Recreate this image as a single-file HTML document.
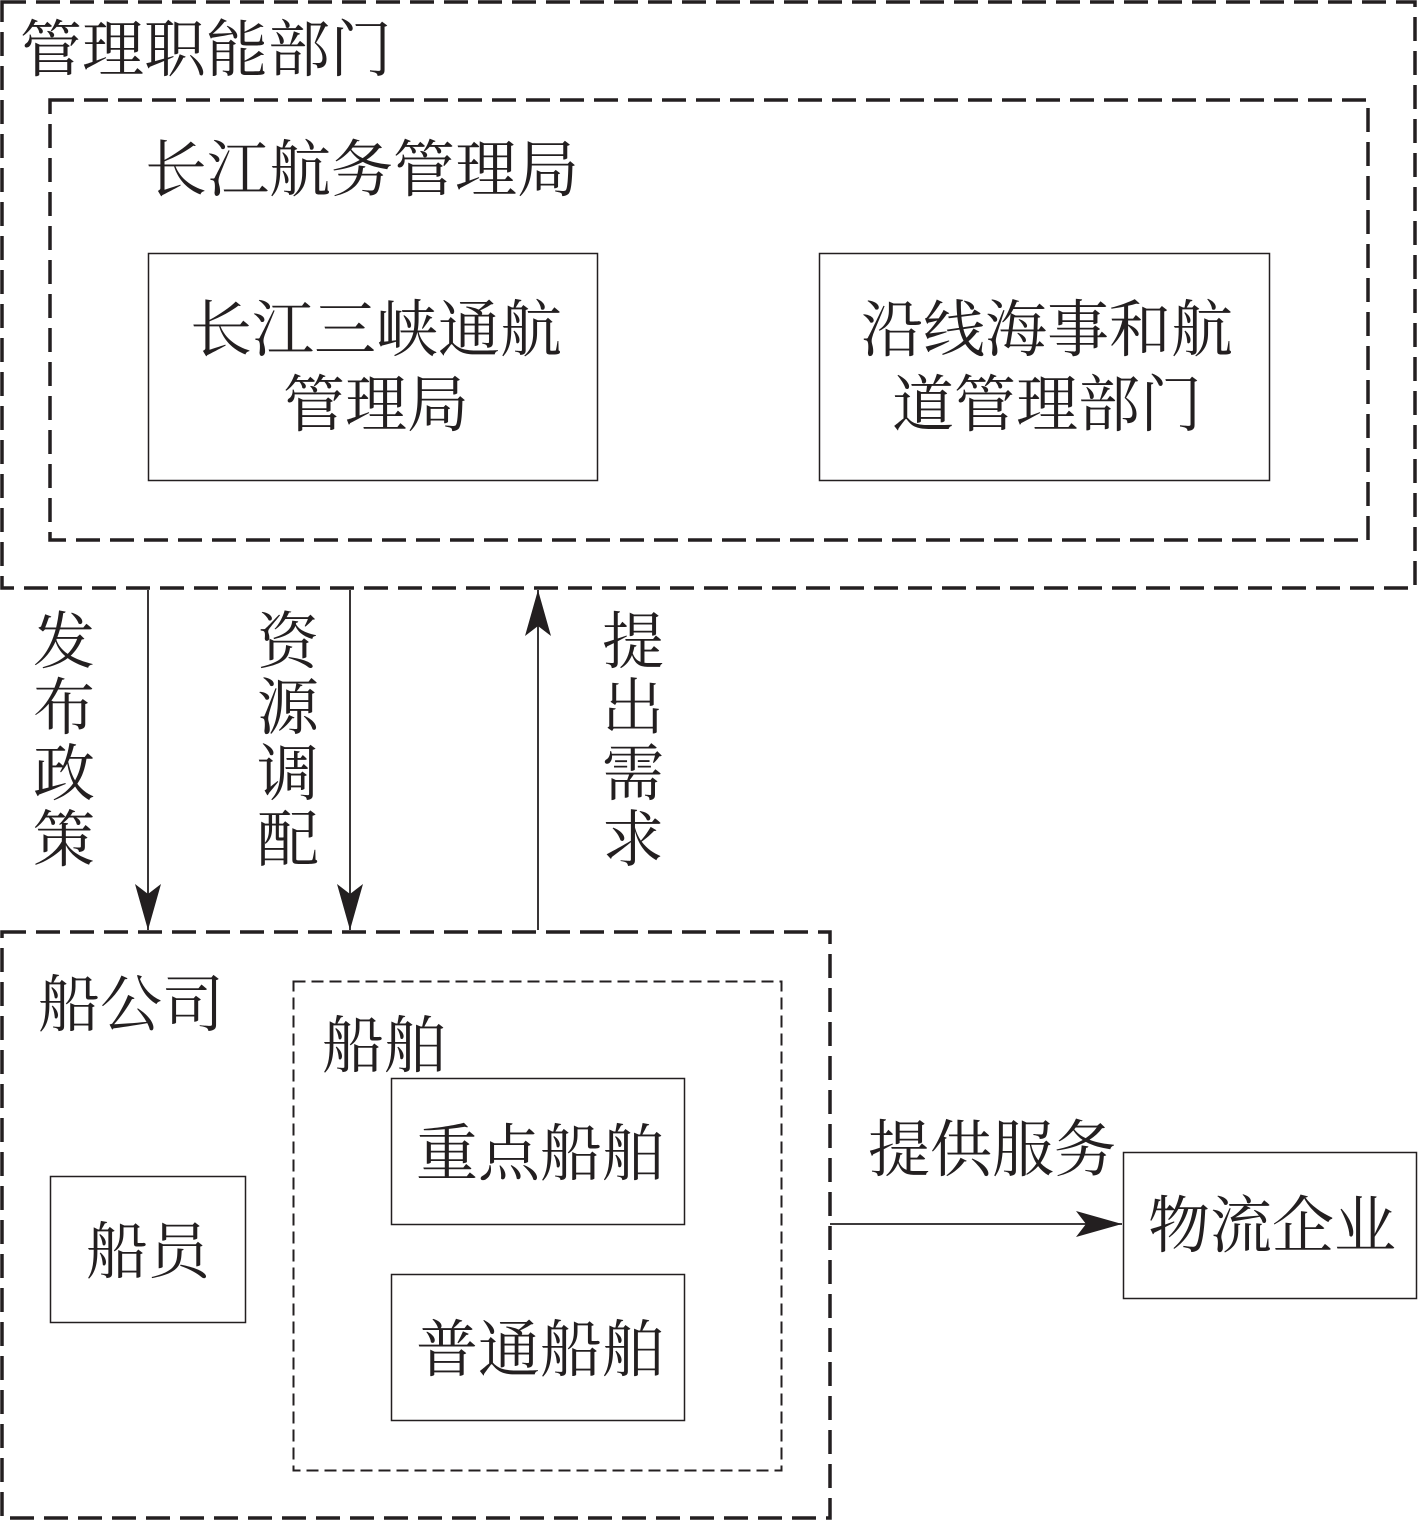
<!DOCTYPE html>
<html><head><meta charset="utf-8"><style>
html,body{margin:0;padding:0;background:#fff}
svg{display:block}
text{font-family:"Liberation Serif","Noto Serif CJK SC",serif;fill:#231f20}
</style></head><body>
<svg width="1418" height="1522" viewBox="0 0 1418 1522" xmlns="http://www.w3.org/2000/svg">
<defs>
<marker id="ah2" markerWidth="48" markerHeight="26" refX="46" refY="13" orient="auto" markerUnits="userSpaceOnUse"><path d="M0,0 L46,13 L0,26 L10,13 Z" fill="#231f20"/></marker></defs>
<g fill="none" stroke="#231f20">
<rect x="2" y="2" width="1413" height="586" stroke-width="3.5" stroke-dasharray="24,10"/>
<rect x="50" y="100" width="1318" height="440" stroke-width="3.5" stroke-dasharray="24,10"/>
<rect x="148.5" y="253.5" width="449" height="227" stroke-width="1.5"/>
<rect x="819.5" y="253.5" width="450" height="227" stroke-width="1.5"/>
<rect x="2" y="932" width="828" height="586" stroke-width="3.5" stroke-dasharray="24,10"/>
<rect x="293.5" y="981.5" width="488" height="489" stroke-width="2" stroke-dasharray="12,6"/>
<rect x="391.5" y="1078.5" width="293" height="146" stroke-width="1.5"/>
<rect x="391.5" y="1274.5" width="293" height="146" stroke-width="1.5"/>
<rect x="50.5" y="1176.5" width="195" height="146" stroke-width="1.5"/>
<rect x="1123.5" y="1152.5" width="293" height="146" stroke-width="1.5"/>
<line x1="148" y1="590" x2="148" y2="930" stroke-width="1.8" marker-end="url(#ah2)"/>
<line x1="350" y1="590" x2="350" y2="930" stroke-width="1.8" marker-end="url(#ah2)"/>
<line x1="538" y1="930" x2="538" y2="590" stroke-width="1.8" marker-end="url(#ah2)"/>
<line x1="830" y1="1224" x2="1122" y2="1224" stroke-width="1.8" marker-end="url(#ah2)"/>
</g>
<g font-size="62">
<text x="20" y="71">管理职能部门</text>
<text x="145" y="191">长江航务管理局</text>
<text x="376" y="351" text-anchor="middle">长江三峡通航</text>
<text x="376" y="426" text-anchor="middle">管理局</text>
<text x="1047" y="351" text-anchor="middle">沿线海事和航</text>
<text x="1047" y="426" text-anchor="middle">道管理部门</text>
<text x="38" y="1026">船公司</text>
<text x="322" y="1067">船舶</text>
<text x="540" y="1175" text-anchor="middle">重点船舶</text>
<text x="540" y="1371" text-anchor="middle">普通船舶</text>
<text x="148" y="1273" text-anchor="middle">船员</text>
<text x="1272" y="1247" text-anchor="middle">物流企业</text>
<text x="868" y="1171">提供服务</text>
</g>
<g font-size="62" text-anchor="middle">
<text x="64" y="663">发</text><text x="64" y="729">布</text><text x="64" y="795">政</text><text x="64" y="861">策</text>
<text x="288" y="663">资</text><text x="288" y="729">源</text><text x="288" y="795">调</text><text x="288" y="861">配</text>
<text x="633" y="663">提</text><text x="633" y="729">出</text><text x="633" y="795">需</text><text x="633" y="861">求</text>
</g>
</svg>
</body></html>
